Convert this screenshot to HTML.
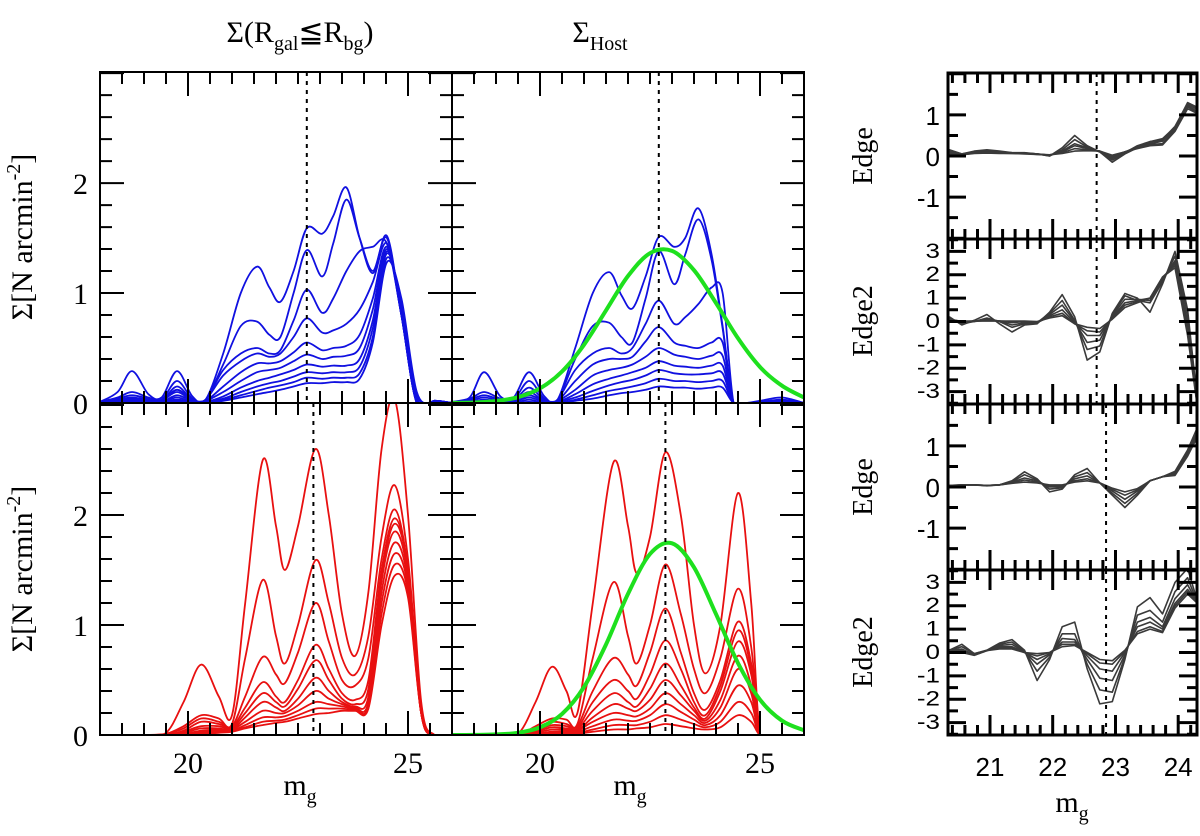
<!DOCTYPE html>
<html><head><meta charset="utf-8">
<style>
html,body{margin:0;padding:0;background:#fff;}
svg{display:block;}
.serif{font-family:"Liberation Serif",serif;}
.sans{font-family:"Liberation Sans",sans-serif;}
</style></head>
<body>
<svg id="chart" width="1200" height="836" viewBox="0 0 1200 836" xmlns="http://www.w3.org/2000/svg">
<rect x="0" y="0" width="1200" height="836" fill="#fff"/>
<text class="serif" x="300" y="42" font-size="30" text-anchor="middle">Σ(R<tspan font-size="20" dy="8">gal</tspan><tspan dy="-8">≦R</tspan><tspan font-size="20" dy="8">bg</tspan><tspan dy="-8">)</tspan></text>
<text class="serif" x="600" y="42" font-size="30" text-anchor="middle">Σ<tspan font-size="20" dy="8">Host</tspan></text>
<text class="serif" x="0" y="0" font-size="30" text-anchor="middle" transform="translate(32,237) rotate(-90)">Σ[N arcmin<tspan font-size="20" dy="-12">-2</tspan><tspan dy="12">]</tspan></text>
<text class="serif" x="0" y="0" font-size="30" text-anchor="middle" transform="translate(32,569) rotate(-90)">Σ[N arcmin<tspan font-size="20" dy="-12">-2</tspan><tspan dy="12">]</tspan></text>
<text class="serif" x="300" y="795" font-size="30" text-anchor="middle">m<tspan font-size="20" dy="8">g</tspan></text>
<text class="serif" x="630" y="795" font-size="30" text-anchor="middle">m<tspan font-size="20" dy="8">g</tspan></text>
<text class="serif" x="1072" y="812" font-size="30" text-anchor="middle">m<tspan font-size="20" dy="8">g</tspan></text>
<text class="serif" x="0" y="0" font-size="28" text-anchor="middle" transform="translate(872,156) rotate(-90)">Edge</text>
<text class="serif" x="0" y="0" font-size="28" text-anchor="middle" transform="translate(872,321) rotate(-90)">Edge2</text>
<text class="serif" x="0" y="0" font-size="28" text-anchor="middle" transform="translate(872,487) rotate(-90)">Edge</text>
<text class="serif" x="0" y="0" font-size="28" text-anchor="middle" transform="translate(872,652) rotate(-90)">Edge2</text>
</svg>
<script>
// ---------- data ----------
const gridTL = [18,18.4,18.73,19.1,19.4,19.75,20.1,20.4,20.8,21.2,21.57,21.85,22.1,22.4,22.7,23.05,23.3,23.6,23.9,24.2,24.52,24.85,25.2,25.6,26];
const blueLeft = [
[0.01,0.1,0.29,0.08,0.05,0.29,0.06,0.03,0.45,1.0,1.24,1.05,0.92,1.2,1.59,1.54,1.7,1.96,1.5,1.18,1.52,0.8,0.0,0.02,0.0],
[0.01,0.05,0.1,0.05,0.03,0.2,0.04,0.03,0.35,0.7,0.74,0.62,0.6,1.0,1.39,1.15,1.45,1.85,1.5,1.2,1.5,0.8,0,0.02,0],
[0.01,0.04,0.07,0.04,0.02,0.15,0.03,0.03,0.3,0.45,0.5,0.45,0.48,0.75,1.03,0.82,0.95,1.2,1.38,1.42,1.45,0.8,0,0.02,0],
[0,0.03,0.05,0.03,0.02,0.12,0.03,0.03,0.25,0.38,0.45,0.42,0.45,0.6,0.77,0.64,0.66,0.72,0.85,1.1,1.45,0.8,0,0.02,0],
[0,0.02,0.04,0.02,0.02,0.1,0.02,0.02,0.15,0.28,0.36,0.36,0.38,0.46,0.55,0.48,0.5,0.52,0.62,0.95,1.42,0.8,0,0.02,0],
[0,0.02,0.03,0.02,0.01,0.07,0.02,0.02,0.1,0.2,0.28,0.3,0.32,0.38,0.44,0.4,0.42,0.43,0.5,0.85,1.4,0.82,0,0.01,0],
[0,0.01,0.02,0.01,0.01,0.05,0.01,0.01,0.06,0.14,0.2,0.23,0.26,0.3,0.35,0.33,0.34,0.34,0.4,0.75,1.38,0.85,0.02,0.01,0],
[0,0.01,0.01,0.01,0.01,0.03,0.01,0.01,0.04,0.1,0.15,0.18,0.2,0.24,0.28,0.27,0.28,0.28,0.33,0.68,1.36,0.88,0.05,0.01,0],
[0,0,0.01,0,0,0.02,0,0.01,0.03,0.07,0.11,0.14,0.16,0.19,0.23,0.22,0.23,0.23,0.27,0.6,1.32,0.9,0.08,0.01,0],
[0,0,0,0,0,0.01,0,0,0.02,0.05,0.08,0.1,0.12,0.15,0.18,0.18,0.19,0.19,0.22,0.55,1.28,0.95,0.1,0,0]
];
const gridTM = [18,18.4,18.73,19.1,19.4,19.75,20.1,20.4,20.8,21.2,21.57,21.85,22.1,22.4,22.7,23.05,23.3,23.6,23.9,24.15,24.4,24.7,25,25.5,26];
const blueHost = [
[0.01,0.05,0.28,0.06,0.05,0.28,0.06,0.03,0.5,1.0,1.19,0.98,0.86,1.15,1.51,1.42,1.5,1.77,1.35,0.7,0,0,0.02,0.05,0],
[0.01,0.04,0.1,0.04,0.03,0.2,0.04,0.03,0.4,0.7,0.73,0.6,0.55,0.95,1.38,1.08,1.35,1.67,1.3,0.68,0,0,0.01,0.03,0],
[0,0.03,0.07,0.03,0.02,0.14,0.03,0.03,0.3,0.45,0.5,0.45,0.5,0.72,0.93,0.72,0.78,0.9,1.05,1.0,0,0,0,0.02,0],
[0,0.02,0.05,0.02,0.02,0.1,0.02,0.02,0.2,0.35,0.4,0.4,0.42,0.56,0.69,0.55,0.52,0.5,0.55,0.55,0,0,0,0.01,0],
[0,0.01,0.03,0.01,0.01,0.07,0.02,0.02,0.12,0.25,0.3,0.32,0.35,0.42,0.5,0.44,0.42,0.4,0.43,0.43,0,0,0,0,0],
[0,0.01,0.02,0.01,0.01,0.05,0.01,0.01,0.08,0.17,0.22,0.25,0.28,0.32,0.38,0.34,0.33,0.32,0.34,0.34,0,0,0,0,0],
[0,0,0.01,0,0,0.03,0,0.01,0.05,0.11,0.16,0.19,0.21,0.25,0.3,0.27,0.26,0.26,0.27,0.27,0,0,0,0,0],
[0,0,0,0,0,0.01,0,0,0.03,0.07,0.11,0.13,0.15,0.18,0.22,0.2,0.2,0.19,0.2,0.2,0,0,0,0,0],
[0,0,0,0,0,0,0,0,0.02,0.04,0.07,0.09,0.1,0.12,0.15,0.14,0.14,0.13,0.14,0.14,0,0,0,0,0]
];
const gridGreen = [18,18.5,19,19.5,20,20.5,21,21.5,22,22.5,23,23.5,24,24.5,25,25.5,26];
const greenTop = [0.001,0.005,0.018,0.053,0.133,0.286,0.529,0.842,1.155,1.362,1.383,1.208,0.909,0.588,0.327,0.157,0.05];
const greenBottom = [0,0.001,0.005,0.02,0.069,0.191,0.436,0.823,1.283,1.645,1.743,1.524,1.099,0.654,0.321,0.13,0.043];
const gridBL = [18,19,19.5,19.9,20.3,20.7,21.0,21.3,21.7,22.0,22.2,22.5,22.9,23.2,23.5,23.8,24.1,24.4,24.7,25.0,25.3,25.6,26];
const redLeft = [
[0,0,0.02,0.3,0.64,0.35,0.18,1.2,2.5,1.9,1.5,1.9,2.6,2.0,1.1,0.72,1.3,2.6,3.05,2.0,0.3,0,0],
[0,0,0.01,0.08,0.18,0.15,0.1,0.7,1.41,0.9,0.65,1.0,1.59,1.2,0.7,0.55,0.9,1.8,2.27,1.6,0.25,0,0],
[0,0,0.01,0.06,0.15,0.12,0.08,0.35,0.71,0.55,0.47,0.75,1.2,0.85,0.5,0.45,0.7,1.6,2.05,1.5,0.2,0,0],
[0,0,0,0.04,0.12,0.1,0.07,0.25,0.48,0.35,0.3,0.5,0.82,0.6,0.38,0.32,0.5,1.5,1.97,1.5,0.2,0,0],
[0,0,0,0.03,0.08,0.08,0.06,0.2,0.38,0.3,0.26,0.42,0.68,0.5,0.33,0.28,0.42,1.45,1.92,1.5,0.2,0,0],
[0,0,0,0.02,0.06,0.06,0.05,0.16,0.3,0.25,0.22,0.33,0.52,0.4,0.3,0.26,0.35,1.4,1.85,1.45,0.2,0,0],
[0,0,0,0.01,0.04,0.05,0.05,0.12,0.22,0.2,0.2,0.27,0.4,0.33,0.28,0.25,0.3,1.3,1.75,1.4,0.2,0,0],
[0,0,0,0.01,0.03,0.04,0.04,0.09,0.16,0.16,0.17,0.22,0.3,0.28,0.26,0.24,0.27,1.2,1.65,1.35,0.2,0,0],
[0,0,0,0,0.02,0.03,0.04,0.07,0.12,0.13,0.14,0.18,0.24,0.24,0.24,0.23,0.25,1.1,1.55,1.3,0.2,0,0],
[0,0,0,0,0.01,0.02,0.03,0.06,0.09,0.11,0.12,0.15,0.19,0.2,0.22,0.22,0.24,1.0,1.45,1.25,0.2,0,0]
];
const gridBM = [18,19,19.5,19.9,20.27,20.6,20.85,21.2,21.67,22.0,22.2,22.5,22.85,23.2,23.5,23.76,24.1,24.5,24.8,25.0,25.3,26];
const redHost = [
[0,0,0.01,0.3,0.62,0.4,0.2,1.2,2.48,1.9,1.47,1.8,2.57,2.0,1.0,0.56,1.0,2.2,1.2,0,0,0],
[0,0,0,0.08,0.15,0.14,0.1,0.7,1.39,0.9,0.65,1.0,1.55,1.1,0.6,0.38,0.7,1.33,0.8,0,0,0],
[0,0,0,0.06,0.12,0.1,0.08,0.4,0.7,0.55,0.45,0.75,1.15,0.75,0.38,0.23,0.5,1.03,0.65,0,0,0],
[0,0,0,0.04,0.09,0.08,0.06,0.3,0.5,0.4,0.33,0.55,0.86,0.6,0.3,0.18,0.45,0.95,0.6,0,0,0],
[0,0,0,0.03,0.07,0.06,0.05,0.22,0.38,0.3,0.26,0.42,0.65,0.45,0.25,0.15,0.4,0.85,0.55,0,0,0],
[0,0,0,0.02,0.05,0.05,0.04,0.16,0.28,0.24,0.22,0.32,0.5,0.36,0.22,0.13,0.32,0.72,0.45,0,0,0],
[0,0,0,0.01,0.03,0.04,0.04,0.12,0.2,0.18,0.17,0.24,0.38,0.28,0.18,0.11,0.25,0.6,0.38,0,0,0],
[0,0,0,0.01,0.02,0.03,0.03,0.08,0.14,0.13,0.13,0.18,0.28,0.21,0.14,0.09,0.18,0.45,0.3,0,0,0],
[0,0,0,0,0.01,0.02,0.02,0.05,0.09,0.09,0.09,0.12,0.18,0.14,0.1,0.07,0.12,0.3,0.2,0,0,0],
[0,0,0,0,0,0.01,0.01,0.03,0.05,0.05,0.06,0.07,0.1,0.08,0.06,0.05,0.07,0.18,0.12,0,0,0]
];
const gridEdge = [20.35,20.55,20.75,20.95,21.15,21.35,21.55,21.75,21.95,22.15,22.35,22.55,22.75,22.95,23.15,23.35,23.55,23.75,23.95,24.15,24.35];
const edgeTop = [
[0.15,0.05,0.12,0.15,0.12,0.08,0.08,0.05,0.0,0.2,0.5,0.25,0.1,-0.15,0.05,0.2,0.35,0.42,0.7,1.3,1.15],
[0.12,0.05,0.1,0.12,0.1,0.08,0.07,0.05,0.0,0.15,0.4,0.22,0.1,-0.1,0.06,0.22,0.33,0.4,0.72,1.28,1.1],
[0.1,0.04,0.1,0.1,0.1,0.07,0.07,0.05,0.02,0.12,0.3,0.2,0.1,-0.06,0.08,0.25,0.35,0.38,0.7,1.25,1.1],
[0.08,0.04,0.08,0.1,0.08,0.07,0.06,0.05,0.02,0.1,0.25,0.18,0.12,-0.03,0.1,0.22,0.3,0.36,0.68,1.22,1.05],
[0.06,0.03,0.07,0.08,0.07,0.06,0.06,0.04,0.03,0.08,0.18,0.15,0.12,0.0,0.1,0.2,0.28,0.3,0.65,1.2,1.0],
[0.05,0.03,0.06,0.07,0.06,0.06,0.05,0.04,0.03,0.06,0.12,0.13,0.12,0.02,0.1,0.18,0.25,0.27,0.6,1.15,1.0]
];
const edge2Top = [
[0.2,-0.15,0.05,0.3,-0.1,-0.45,-0.15,-0.1,0.4,1.15,0.2,-1.65,-1.3,0.35,1.2,1.0,0.4,1.6,3.0,0.5,-4.5],
[0.15,-0.1,0.0,0.15,0.0,-0.25,-0.1,-0.05,0.35,0.9,0.05,-1.2,-1.05,0.3,1.1,0.9,0.8,1.7,2.8,0.3,-4.5],
[0.12,-0.05,0.0,0.1,0.02,-0.15,-0.05,-0.05,0.3,0.7,0.0,-0.9,-0.8,0.25,0.95,0.95,0.9,1.8,2.6,0.0,-4.5],
[0.1,0.0,0.0,0.05,0.02,-0.05,0.0,-0.05,0.25,0.5,-0.05,-0.6,-0.6,0.2,0.8,0.9,1.0,1.85,2.5,-0.2,-4.5],
[0.08,0.0,0.02,0.03,0.02,0.0,0.0,-0.05,0.2,0.35,-0.1,-0.4,-0.45,0.15,0.7,0.85,1.0,1.9,2.4,-0.4,-4.5],
[0.06,0.02,0.02,0.02,0.02,0.02,0.02,0.0,0.15,0.25,-0.1,-0.25,-0.3,0.1,0.6,0.8,1.0,1.9,2.3,-0.6,-4.5]
];
const edgeBottom = [
[0.02,0.05,0.05,0.03,0.05,0.15,0.37,0.2,-0.12,-0.05,0.3,0.45,0.1,-0.2,-0.5,-0.2,0.15,0.25,0.38,0.9,1.6],
[0.03,0.05,0.05,0.04,0.05,0.13,0.3,0.17,-0.05,-0.02,0.25,0.35,0.1,-0.15,-0.4,-0.15,0.15,0.25,0.35,0.85,1.5],
[0.03,0.05,0.05,0.04,0.05,0.12,0.22,0.15,0.0,0.0,0.2,0.27,0.1,-0.1,-0.3,-0.1,0.15,0.25,0.33,0.8,1.45],
[0.04,0.05,0.05,0.04,0.05,0.1,0.17,0.12,0.03,0.03,0.15,0.2,0.1,-0.06,-0.2,-0.07,0.15,0.25,0.3,0.78,1.4],
[0.04,0.05,0.05,0.04,0.05,0.09,0.12,0.1,0.05,0.05,0.12,0.15,0.1,-0.03,-0.12,-0.04,0.15,0.25,0.28,0.75,1.35]
];
const edge2Bottom = [
[0.1,0.35,-0.05,0.1,0.4,0.55,0.1,-1.2,-0.3,1.1,1.3,-0.7,-2.2,-2.1,-0.3,1.95,2.35,1.65,3.0,3.6,1.8],
[0.1,0.25,-0.05,0.08,0.35,0.45,0.05,-0.8,-0.2,0.8,0.8,-0.5,-1.6,-1.7,-0.2,1.6,1.8,1.3,2.6,3.2,1.8],
[0.1,0.15,-0.1,0.08,0.3,0.35,0.02,-0.5,-0.1,0.6,0.55,-0.3,-1.1,-1.2,-0.1,1.3,1.5,1.1,2.3,2.9,1.9],
[0.1,0.1,-0.1,0.08,0.25,0.25,0.0,-0.3,-0.05,0.45,0.45,-0.15,-0.7,-0.8,0.0,1.1,1.3,1.0,2.1,2.7,2.0],
[0.1,0.05,-0.12,0.08,0.2,0.2,0.0,-0.15,0.0,0.35,0.35,-0.05,-0.45,-0.5,0.05,0.9,1.1,0.9,2.0,2.6,2.0],
[0.1,0.0,-0.12,0.08,0.15,0.15,0.0,-0.05,0.0,0.25,0.3,0.0,-0.3,-0.35,0.1,0.8,1.0,0.85,1.9,2.5,2.0]
];
const dottedTop = 22.7, dottedBottom = 22.85;
const leftXTickLabels = [20, 25];
const leftYTickLabels = [0, 1, 2];
const rightXTickLabels = [21, 22, 23, 24];
const edgeYTickLabels = [1, 0, -1];
const edge2YTickLabels = [3, 2, 1, 0, -1, -2, -3];

// ---------- helpers ----------
const NS = "http://www.w3.org/2000/svg";
const svg = document.getElementById("chart");
function mk(tag, attrs, parent) {
  const e = document.createElementNS(NS, tag);
  for (const k in attrs) e.setAttribute(k, attrs[k]);
  (parent || svg).appendChild(e);
  return e;
}
let clipId = 0;
function makePanel(name, x0, x1, y0, y1, xmin, xmax, ymin, ymax) {
  const p = {x0, x1, y0, y1, xmin, xmax, ymin, ymax};
  p.sx = v => x0 + (v - xmin) / (xmax - xmin) * (x1 - x0);
  p.sy = v => y1 - (v - ymin) / (ymax - ymin) * (y1 - y0);
  const cid = "clip" + (clipId++);
  const cp = mk("clipPath", {id: cid});
  mk("rect", {x: x0, y: y0, width: x1 - x0, height: y1 - y0}, cp);
  p.g = mk("g", {"clip-path": "url(#" + cid + ")"});
  
  
  return p;
}
function smoothPath(p, xs, ys) {
  const pts = xs.map((x, i) => [p.sx(x), p.sy(ys[i])]);
  let d = "M" + pts[0][0].toFixed(1) + "," + pts[0][1].toFixed(1);
  for (let i = 0; i < pts.length - 1; i++) {
    const p0 = pts[Math.max(0, i - 1)], p1 = pts[i], p2 = pts[i + 1], p3 = pts[Math.min(pts.length - 1, i + 2)];
    const c1 = [p1[0] + (p2[0] - p0[0]) / 6, p1[1] + (p2[1] - p0[1]) / 6];
    const c2 = [p2[0] - (p3[0] - p1[0]) / 6, p2[1] - (p3[1] - p1[1]) / 6];
    d += " C" + c1[0].toFixed(1) + "," + c1[1].toFixed(1) + " " + c2[0].toFixed(1) + "," + c2[1].toFixed(1) + " " + p2[0].toFixed(1) + "," + p2[1].toFixed(1);
  }
  return d;
}
function linePath(p, xs, ys) {
  return xs.map((x, i) => (i ? "L" : "M") + p.sx(x).toFixed(1) + "," + p.sy(ys[i]).toFixed(1)).join(" ");
}
function drawCurves(p, grid, series, color, width, smooth, prefix) {
  series.forEach((ys, i) => {
    const e = mk("path", {d: smooth ? smoothPath(p, grid, ys) : linePath(p, grid, ys), fill: "none", stroke: color, "stroke-width": width, "stroke-linejoin": "round"}, p.g);
    
    
  });
}
function drawDotted(p, m, name) {
  const e = mk("line", {x1: p.sx(m), x2: p.sx(m), y1: p.y0, y2: p.y1, stroke: "#000", "stroke-width": 2, "stroke-dasharray": "4,5"}, p.g);
  
  
}
function frame(p, name, sw) {
  const e = mk("rect", {x: p.x0, y: p.y0, width: p.x1 - p.x0, height: p.y1 - p.y0, fill: "none", stroke: "#000", "stroke-width": sw});
  
  
}
function ticks(p, name, xstep, xmajorTest, xmaj, xmin, ystep, ymajorTest, ymaj, ymin, sw) {
  let d = "";
  const xs = Math.ceil(p.xmin / xstep - 1e-6);
  for (let k = xs; k * xstep <= p.xmax + 1e-6; k++) {
    const v = +(k * xstep).toFixed(3);
    const L = xmajorTest(v) ? xmaj : xmin;
    const x = p.sx(v).toFixed(1);
    d += "M" + x + "," + p.y1 + "v" + (-L) + "M" + x + "," + p.y0 + "v" + L;
  }
  const ys = Math.ceil(p.ymin / ystep - 1e-6);
  for (let k = ys; k * ystep <= p.ymax + 1e-6; k++) {
    const v = +(k * ystep).toFixed(3);
    const L = ymajorTest(v) ? ymaj : ymin;
    const y = p.sy(v).toFixed(1);
    d += "M" + p.x0 + "," + y + "h" + L + "M" + p.x1 + "," + y + "h" + (-L);
  }
  const e = mk("path", {d: d, stroke: "#000", "stroke-width": sw, fill: "none"});
  
  
}
function label(txt, x, y, cls, size, anchor, name, extra) {
  const e = mk("text", Object.assign({x: x, y: y, "font-size": size, "text-anchor": anchor, class: cls}, extra || {}));
  e.textContent = txt;
  
  
}
const isInt = v => Math.abs(v - Math.round(v)) < 1e-6;

// ---------- left panels ----------
const TL = makePanel("panel-top-left", 100, 452, 72, 403, 18, 26, 0, 3.01);
const TM = makePanel("panel-top-host", 452, 804, 72, 403, 18, 26, 0, 3.01);
const BL = makePanel("panel-bottom-left", 100, 452, 403, 735, 18, 26, 0, 3.018);
const BM = makePanel("panel-bottom-host", 452, 804, 403, 735, 18, 26, 0, 3.018);

drawCurves(TL, gridTL, blueLeft, "#1010e0", 1.8, true, "blue-curve-left");
drawDotted(TL, dottedTop, "dotted-line-top-left");
drawCurves(TM, gridTM, blueHost, "#1010e0", 1.8, true, "blue-curve-host");
drawCurves(TM, gridGreen, [greenTop], "#1ee01e", 4, true, "green-gaussian-top");
drawDotted(TM, dottedTop, "dotted-line-top-host");
drawCurves(BL, gridBL, redLeft, "#e81010", 1.8, true, "red-curve-left");
drawDotted(BL, dottedBottom, "dotted-line-bottom-left");
drawCurves(BM, gridBM, redHost, "#e81010", 1.8, true, "red-curve-host");
drawCurves(BM, gridGreen, [greenBottom], "#1ee01e", 4, true, "green-gaussian-bottom");
drawDotted(BM, dottedBottom, "dotted-line-bottom-host");

[[TL,"top-left"],[TM,"top-host"],[BL,"bottom-left"],[BM,"bottom-host"]].forEach(([p,n]) => {
  ticks(p, "ticks-" + n, 0.5, v => v === 20 || v === 25, 24, 12, 0.2, isInt, 24, 12, 2);
  frame(p, "frame-" + n, 2);
});
[BL, BM].forEach(p => leftXTickLabels.forEach(v => label(String(v), p.sx(v), 773, "serif", 30, "middle", "x-tick-label-" + v)));
[TL, BL].forEach(p => leftYTickLabels.forEach(v => label(String(v), 88, p.sy(v) + 11, "serif", 30, "end", "y-tick-label-" + v)));

// ---------- right panels ----------
const RX0 = 948, RX1 = 1197, RXMIN = 20.33, RXMAX = 24.3;
const R1 = makePanel("panel-edge-top", RX0, RX1, 73, 239, RXMIN, RXMAX, -2.02, 2.02);
const R2 = makePanel("panel-edge2-top", RX0, RX1, 239, 404, RXMIN, RXMAX, -3.53, 3.53);
const R3 = makePanel("panel-edge-bottom", RX0, RX1, 404, 570, RXMIN, RXMAX, -2.02, 2.02);
const R4 = makePanel("panel-edge2-bottom", RX0, RX1, 570, 735, RXMIN, RXMAX, -3.53, 3.53);
drawCurves(R1, gridEdge, edgeTop, "#3a3a3a", 1.6, false, "edge-line-top");
drawDotted(R1, dottedTop, "dotted-line-edge-top");
drawCurves(R2, gridEdge, edge2Top, "#3a3a3a", 1.6, false, "edge2-line-top");
drawDotted(R2, dottedTop, "dotted-line-edge2-top");
drawCurves(R3, gridEdge, edgeBottom, "#3a3a3a", 1.6, false, "edge-line-bottom");
drawDotted(R3, dottedBottom, "dotted-line-edge-bottom");
drawCurves(R4, gridEdge, edge2Bottom, "#3a3a3a", 1.6, false, "edge2-line-bottom");
drawDotted(R4, dottedBottom, "dotted-line-edge2-bottom");
[[R1,"edge-top"],[R2,"edge2-top"],[R3,"edge-bottom"],[R4,"edge2-bottom"]].forEach(([p,n]) => {
  ticks(p, "ticks-" + n, 0.2, isInt, 20, 10, 0.5, isInt, 18, 10, 3);
  frame(p, "frame-" + n, 3);
});
rightXTickLabels.forEach(v => label(String(v), R4.sx(v), 776, "sans", 26, "middle", "x-tick-label-right-" + v));
[R1, R3].forEach(p => edgeYTickLabels.forEach(v => label(String(v), 940, p.sy(v) + 10, "sans", 26, "end", "edge-y-tick-label")));
[R2, R4].forEach(p => edge2YTickLabels.forEach(v => {
  const y = p.sy(v);
  label(String(v), 940, y + 8, "sans", 26, "end", "edge2-y-tick-label", {transform: "translate(0," + (y * 0.2).toFixed(1) + ") scale(1,0.8)"});
}));
</script>
</body></html>
